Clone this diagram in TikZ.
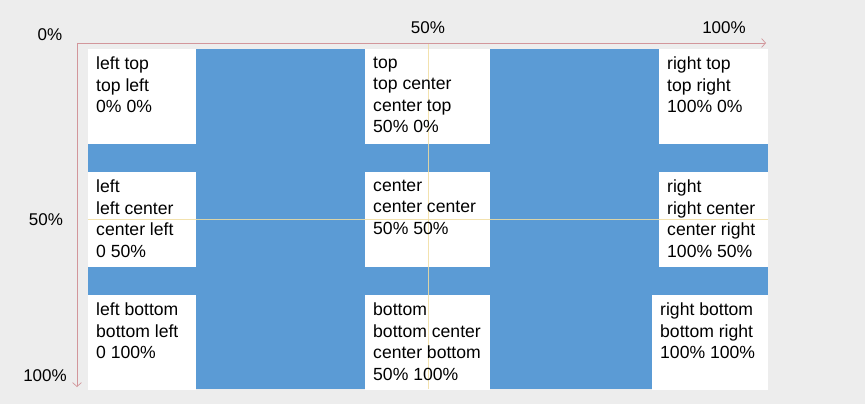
\documentclass[tikz,border=0pt]{standalone}
\usepackage{fontspec}
\setmainfont{Liberation Sans}
\usetikzlibrary{calc,arrows.meta}

\definecolor{bggray}{RGB}{237,237,237}
\definecolor{boxblue}{RGB}{91,155,213}
\definecolor{axisred}{RGB}{210,150,155}
\definecolor{guideyellow}{RGB}{242,222,160}

\begin{document}
\begin{tikzpicture}[x=1pt,y=-1pt,
                    cell/.style={fill=white,inner sep=0pt,minimum height=94.5pt,anchor=north west},
                    celltext/.style={inner sep=0pt,anchor=north west,align=left,font=\fontsize{17.6}{21.35}\selectfont},
                    pct/.style={anchor=base,inner sep=0pt,font=\fontsize{17}{20}\selectfont},
                    axis/.style={draw=axisred,line width=0.7pt,-{Straight Barb[length=4pt,width=9pt]}},
                    guide/.style={draw=guideyellow,line width=0.8pt,opacity=0.85}
]
\fill[bggray] (0,0) rectangle (865,404);
\useasboundingbox (0,0) rectangle (865,404);
%
\node [fill=boxblue,inner sep=0pt,minimum width=680pt,minimum height=340pt,anchor=north west] at (88,49) (wrap) {};
%
\node [cell, minimum width=108pt] at (88,49) (lt) {};
\node [cell, minimum width=125pt] at (365,49) (tc) {};
\node [cell, minimum width=109pt] at (659,49) (rt) {};
\node [cell, minimum width=108pt] at (88,172) (lc) {};
\node [cell, minimum width=125pt] at (365,172) (cc) {};
\node [cell, minimum width=109pt] at (659,172) (rc) {};
\node [cell, minimum width=108pt] at (88,295) (lb) {};
\node [cell, minimum width=125pt] at (365,295) (bc) {};
\node [cell, minimum width=116pt] at (652,295) (rb) {};
%
\coordinate (gtop) at (428,43);
\coordinate (gbot) at (428,389);
\coordinate (gleft) at (88,219);
\coordinate (gright) at (768,219);
\draw [guide] (gtop) -- (gbot);
\draw [guide] (gleft) -- (gright);
%
\node [celltext] at ($(lt.north west)+(8,8)$) (lt text) {left top\\top left\\0\% 0\%};
\node [celltext] at ($(tc.north west)+(8,8)$) (tc text) {top\\top center\\center top\\50\% 0\%};
\node [celltext] at ($(rt.north west)+(8,8)$) (rt text) {right top\\top right\\100\% 0\%};
\node [celltext] at ($(lc.north west)+(8,8)$) (lc text) {left\\left center\\center left\\0 50\%};
\node [celltext] at ($(cc.north west)+(8,8)$) (cc text) {center\\center center\\50\% 50\%};
\node [celltext] at ($(rc.north west)+(8,8)$) (rc text) {right\\right center\\center right\\100\% 50\%};
\node [celltext] at ($(lb.north west)+(8,8)$) (lb text) {left bottom\\bottom left\\0 100\%};
\node [celltext] at ($(bc.north west)+(8,8)$) (bc text) {bottom\\bottom center\\center bottom\\50\% 100\%};
\node [celltext] at ($(rb.north west)+(8,8)$) (rb text) {right bottom\\bottom right\\100\% 100\%};
%
\coordinate (origin) at (77,43);
\coordinate (xend) at (766,43);
\coordinate (yend) at (77,387);
\draw [axis] (origin) -- (xend);
\draw [axis] (origin) -- (yend);
%
\node [pct] at (50,40.5) (x0) {0\%};
\node [pct] at (428,33.3) (x50) {50\%};
\node [pct] at (724,33.3) (x100) {100\%};
\node [pct] at (46,225.3) (y50) {50\%};
\node [pct] at (45,381) (y100) {100\%};
\end{tikzpicture}
\end{document}
